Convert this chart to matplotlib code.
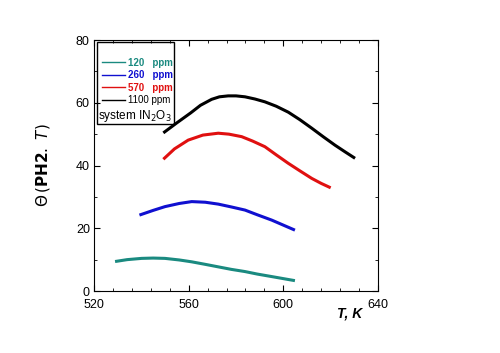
import matplotlib
matplotlib.use('Agg')
import matplotlib.pyplot as plt
from matplotlib.ticker import MultipleLocator, AutoMinorLocator
from matplotlib.patches import Rectangle
from matplotlib.lines import Line2D

plt.rcParams['font.family'] = ['Liberation Sans', 'DejaVu Sans']

# Curves: temperature (K) and Theta values
t_120 = [528.9, 534, 540.1, 545, 550, 556, 561.3, 567, 572.5, 578, 583.8, 589, 595.1, 604.9]
v_120 = [9.4, 10.0, 10.4, 10.5, 10.4, 9.9, 9.3, 8.5, 7.7, 6.9, 6.2, 5.4, 4.6, 3.3]

t_260 = [539.2, 545, 550, 556, 561.3, 567, 572.5, 578, 583.8, 589, 595.1, 600, 604.9]
v_260 = [24.2, 25.7, 26.9, 27.9, 28.5, 28.3, 27.7, 26.8, 25.8, 24.3, 22.6, 21.0, 19.4]

t_570 = [549.3, 554, 559.8, 566, 572.5, 577, 582.4, 587, 592.2, 597, 602.1, 607, 612, 616, 620]
v_570 = [42.0, 45.3, 48.1, 49.7, 50.3, 50.0, 49.2, 47.8, 46.0, 43.4, 40.7, 38.3, 35.9, 34.3, 32.9]

t_1100 = [549.3, 555, 560.9, 565, 569.7, 573, 576.7, 580, 583.8, 588, 592.2, 597, 602.1, 607,
          612, 617, 621.8, 626, 630.3]
v_1100 = [50.4, 53.6, 56.8, 59.2, 61.1, 61.9, 62.2, 62.2, 61.9, 61.2, 60.3, 58.9, 57.0, 54.6,
          51.9, 49.1, 46.5, 44.4, 42.3]

series = [
    (t_120, v_120, '#1a8a80', '120   ppm'),
    (t_260, v_260, '#1010d0', '260   ppm'),
    (t_570, v_570, '#e01010', '570   ppm'),
    (t_1100, v_1100, 'black', '1100 ppm'),
]

fig = plt.figure(figsize=(5, 3.53), dpi=100)
ax = fig.add_axes([0.188, 0.1756, 0.568, 0.711])

for t, v, c, lab in series:
    ax.plot(t, v, color=c, lw=2.2, solid_capstyle='butt', solid_joinstyle='round')

ax.set_xlim(520, 640)
ax.set_ylim(0, 80)
ax.xaxis.set_major_locator(MultipleLocator(40))
ax.xaxis.set_minor_locator(AutoMinorLocator(5))
ax.yaxis.set_major_locator(MultipleLocator(20))
ax.yaxis.set_minor_locator(AutoMinorLocator(2))
ax.tick_params(which='both', direction='in', top=True, right=True, labelsize=9)
ax.tick_params(which='major', length=4)
ax.tick_params(which='minor', length=2.5)
ax.tick_params(axis='x', pad=6)
ax.tick_params(axis='y', pad=3)

ax.set_ylabel(r'$\mathit{\Theta}\,(\mathbf{PH2}.\ \mathit{T})$', fontsize=11, labelpad=17)
ax.text(0.9, -0.06, 'T, K', transform=ax.transAxes, ha='center', va='top',
        fontsize=10, fontweight='bold', fontstyle='italic')

handles = [Line2D([], [], color=c, lw=1) for _, _, c, _ in series]
labels = [lab for _, _, _, lab in series]
leg = ax.legend(handles, labels, loc='upper left', bbox_to_anchor=(0.015, 0.945),
                frameon=False, fontsize=7, handlelength=2.3, handletextpad=0.4,
                labelspacing=0.25, borderaxespad=0)
for txt, (_, _, c, _) in zip(leg.get_texts(), series):
    txt.set_color(c)
    if c != 'black':
        txt.set_fontweight('bold')

ax.text(0.015, 0.697, r'system IN$_2$O$_3$', transform=ax.transAxes,
        fontsize=8.5, va='center', ha='left')
ax.add_patch(Rectangle((0.01, 0.666), 0.27, 0.326, transform=ax.transAxes,
                       fill=False, lw=1, ec='black'))

fig.savefig('out.png', dpi=100)
